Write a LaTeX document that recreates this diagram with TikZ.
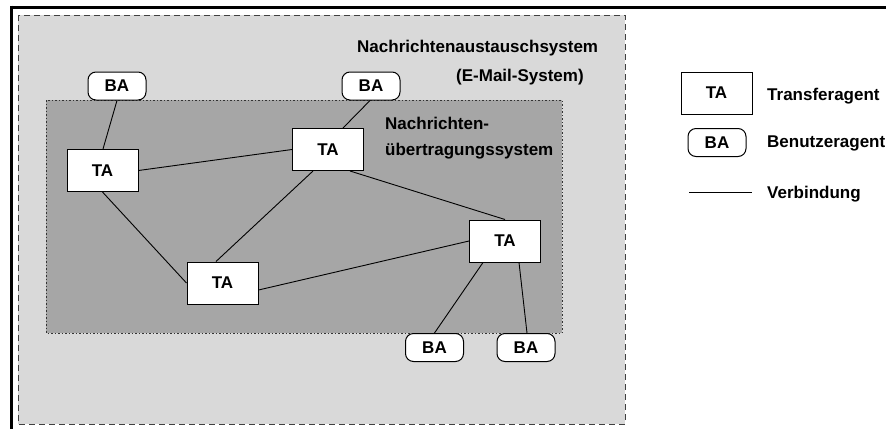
\documentclass[tikz,border=0pt]{standalone}
\usepackage{fontspec}
\setmainfont{Liberation Sans}
\usetikzlibrary{calc}
\definecolor{outerfill}{HTML}{D9D9D9}
\definecolor{innerfill}{HTML}{A6A6A6}
\tikzset{
  every node/.style={font=\fontsize{17}{20}\selectfont\bfseries},
  tabox/.style={draw, fill=white, line width=1pt, minimum width=71pt, minimum height=42pt, inner sep=0pt},
  babox/.style={draw, fill=white, line width=1pt, rounded corners=8pt, minimum width=58pt, minimum height=28pt, inner sep=0pt},
  link/.style={line width=0.9pt},
  caption/.style={anchor=base west, inner sep=0pt},
}
\begin{document}
\begin{tikzpicture}[x=1pt, y=-1pt]
\useasboundingbox (0,0) rectangle (886,429);
% frame lines
\draw[line width=3pt] (10,7) -- (886,7);
\draw[line width=3pt] (11,5.5) -- (11,429);
% outer system: Nachrichtenaustauschsystem
\draw[fill=outerfill, draw=black!75, line width=1pt, dash pattern=on 6pt off 4pt] (18,15) rectangle (625,424);
% inner system: Nachrichtenuebertragungssystem
\draw[fill=innerfill, draw=black!80, line width=1pt, dash pattern=on 1.5pt off 2pt] (46,100) rectangle (562,333);

\node[caption] (t1) at (357,52.7) {Nachrichtenaustauschsystem};
\node[caption] (t2) at (456,81) {(E-Mail-System)};
\node[caption] (t3) at (385,129.3) {Nachrichten-};
\node[caption] (t4) at (385,155.7) {übertragungssystem};

% agents
\node[babox] (ba1) at (117,86) {BA};
\node[babox] (ba2) at (371,86) {BA};
\node[tabox] (ta1) at (102.5,170.5) {TA};
\node[tabox] (ta2) at (328,149.5) {TA};
\node[tabox] (ta3) at (222.5,283) {TA};
\node[tabox] (ta4) at (505,241) {TA};
\node[babox] (ba3) at (434.5,347.5) {BA};
\node[babox] (ba4) at (526,347.5) {BA};

% connections
\draw[link] (ba1.south) -- ($(ta1.north)+(0.5,0)$);
\draw[link] ($(ba2.south)+(-1,0)$) -- ($(ta2.north)+(15,0)$);
\draw[link] (ta1.east) -- (ta2.west);
\draw[link] (ta1.south) -- (ta3.west);
\draw[link] ($(ta3.north)+(-6.5,0)$) -- ($(ta2.south)+(-15,0)$);
\draw[link] ($(ta3.east)+(0,7)$) -- (ta4.west);
\draw[link] ($(ta2.south)+(22,0)$) -- (ta4.north);
\draw[link] ($(ta4.south)+(-22,0)$) -- (ba3.north);
\draw[link] ($(ta4.south)+(14,0)$) -- ($(ba4.north)+(1,0)$);

% legend
\node[tabox] (lta) at (716.5,93) {TA};
\node[caption] (lt1) at (767,100.7) {Transferagent};
\node[babox] (lba) at (717,142.5) {BA};
\node[caption] (lt2) at (767,147.3) {Benutzeragent};
\coordinate (la) at (689,192);
\coordinate (lb) at (752,192);
\draw[link] (la) -- (lb);
\node[caption] (lt3) at (767,198.3) {Verbindung};
\end{tikzpicture}
\end{document}
